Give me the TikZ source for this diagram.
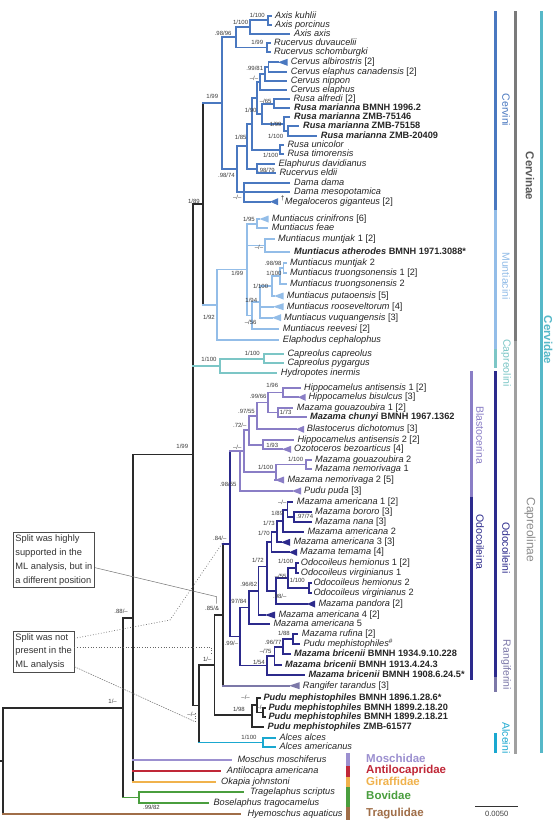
\documentclass[tikz,border=0pt]{standalone}
\usepackage{fontspec}
\setmainfont{Liberation Sans}
\usetikzlibrary{calc}
\definecolor{kcvi}{HTML}{4A78C0}
\definecolor{kmun}{HTML}{93BDE8}
\definecolor{kcap}{HTML}{7CC6C6}
\definecolor{kbla}{HTML}{8A7EC6}
\definecolor{kodo}{HTML}{2C2A8C}
\definecolor{kran}{HTML}{7C78A8}
\definecolor{kalc}{HTML}{1AA8D0}
\definecolor{kmos}{HTML}{9C90D0}
\definecolor{kant}{HTML}{C02838}
\definecolor{kgir}{HTML}{F0B24C}
\definecolor{kbov}{HTML}{4A9E3E}
\definecolor{ktra}{HTML}{A06E48}
\definecolor{kbk}{HTML}{2A2A2A}
\definecolor{klab}{HTML}{3A3A3A}
\definecolor{kcvnbar}{HTML}{7A7A7A}
\definecolor{kcapbar}{HTML}{A0A0A0}
\definecolor{kcvdbar}{HTML}{56B8C8}
\newcommand{\vbr}[4]{\draw[br,#4] (#1 |- #2) -- (#1 |- #3);}
\newcommand{\hbr}[3]{\draw[br,#3] (#1 |- #2) -- (#2);}
\newcommand{\tip}[5]{\coordinate (t#1) at (#3,#2);\node[tx] (n#1) at (#4,#2) {#5};}
\newcommand{\ttip}[7]{\coordinate (t#1) at (#3,#2);\fill[#6] (t#1) -- ($(t#1)+(#7,-3.5)$) -- ($(t#1)+(#7,3.5)$) -- cycle;\node[tx] (n#1) at (#4,#2) {#5};}
\newcounter{lbl}
\newcommand{\slb}[3]{\stepcounter{lbl}\node[slab] (s\arabic{lbl}) at (#1,#2) {#3};}
\begin{document}
\begin{tikzpicture}[x=1pt,y=-1pt,
 br/.style={line width=1.7pt, line cap=rect},
 tx/.style={anchor=mid west, inner sep=0pt, font=\fontsize{9.2}{10}\selectfont, text=black!85},
 slab/.style={anchor=east, inner sep=0pt, font=\fontsize{6}{7}\selectfont, text=klab},
 cbar/.style={line width=3pt},
 cl/.style={rotate=-90, inner sep=0pt, font=\fontsize{10.5}{12}\selectfont},
 fam/.style={anchor=mid west, inner sep=0pt, font=\fontsize{11.5}{13}\selectfont\bfseries},
 note/.style={draw=black!70, line width=0.8pt, inner sep=2.3pt, align=left, anchor=north west, font=\fontsize{9.3}{13.8}\selectfont, text=black!80},
 lead/.style={black!55, line width=0.5pt},
 leaddot/.style={black!60, line width=0.7pt, dotted}]
\useasboundingbox (0,0) rectangle (553,822);
\fill[white] (0,0) rectangle (553,822);
% ---------- tips ----------
\tip{1}{15.7}{271}{275}{\textit{Axis kuhlii}}
\tip{2}{24.7}{271}{275}{\textit{Axis porcinus}}
\tip{3}{33.7}{289.5}{294}{\textit{Axis axis}}
\tip{4}{42.7}{270}{274}{\textit{Rucervus duvaucelii}}
\tip{5}{52.3}{270}{274}{\textit{Rucervus schomburgki}}
\ttip{6}{62.3}{278}{290.7}{\textit{Cervus albirostris} [2]}{kcvi}{9.5}
\tip{7}{71.7}{286}{290.7}{\textit{Cervus elaphus canadensis} [2]}
\tip{8}{81}{286}{290.7}{\textit{Cervus nippon}}
\tip{9}{90}{286}{290.7}{\textit{Cervus elaphus}}
\tip{10}{99.3}{289}{293.3}{\textit{Rusa alfredi} [2]}
\tip{11}{108.3}{289.5}{294}{\textbf{\textit{Rusa marianna} BMNH 1996.2}}
\tip{12}{116.7}{289.5}{294}{\textbf{\textit{Rusa marianna} ZMB-75146}}
\tip{13}{126}{298.5}{303}{\textbf{\textit{Rusa marianna} ZMB-75158}}
\tip{14}{135.7}{316}{320.7}{\textbf{\textit{Rusa marianna} ZMB-20409}}
\tip{15}{145}{283}{287.3}{\textit{Rusa unicolor}}
\tip{16}{154.3}{283}{287.3}{\textit{Rusa timorensis}}
\tip{17}{164}{274}{278.3}{\textit{Elaphurus davidianus}}
\tip{18}{173.3}{275}{279.3}{\textit{Rucervus eldii}}
\tip{19}{182.7}{289.5}{294}{\textit{Dama dama}}
\tip{20}{191.7}{289.5}{294}{\textit{Dama mesopotamica}}
\ttip{21}{201.7}{270}{280.7}{\textsuperscript{†}\textit{Megaloceros giganteus} [2]}{kcvi}{8}
\ttip{22}{219}{259.5}{271.7}{\textit{Muntiacus crinifrons} [6]}{kmun}{9}
\tip{23}{228.3}{267.5}{271.7}{\textit{Muntiacus feae}}
\tip{24}{239}{274}{278}{\textit{Muntiacus muntjak} 1 [2]}
\tip{25}{251.7}{289.5}{294}{\textbf{\textit{Muntiacus atherodes} BMNH 1971.3088*}}
\tip{26}{263.3}{286}{290}{\textit{Muntiacus muntjak} 2}
\tip{27}{273.3}{286}{290}{\textit{Muntiacus truongsonensis} 1 [2]}
\tip{28}{284.3}{286}{290}{\textit{Muntiacus truongsonensis} 2}
\ttip{29}{296}{274}{286.7}{\textit{Muntiacus putaoensis} [5]}{kmun}{9.5}
\ttip{30}{306.7}{273}{286.7}{\textit{Muntiacus rooseveltorum} [4]}{kmun}{10.5}
\ttip{31}{317.7}{272}{284}{\textit{Muntiacus vuquangensis} [3]}{kmun}{9}
\tip{32}{329}{278.5}{282.7}{\textit{Muntiacus reevesi} [2]}
\tip{33}{340}{278.5}{282.7}{\textit{Elaphodus cephalophus}}
\tip{34}{354}{283}{287.3}{\textit{Capreolus capreolus}}
\tip{35}{363.3}{283}{287.3}{\textit{Capreolus pygargus}}
\tip{36}{373.3}{276.5}{280.7}{\textit{Hydropotes inermis}}
\tip{37}{387.7}{300}{304}{\textit{Hippocamelus antisensis} 1 [2]}
\ttip{38}{397.3}{298}{308.3}{\textit{Hippocamelus bisulcus} [3]}{kbla}{7.5}
\tip{39}{407.7}{292.5}{296.7}{\textit{Mazama gouazoubira} 1 [2]}
\tip{40}{417.3}{306}{310}{\textbf{\textit{Mazama chunyi} BMNH 1967.1362}}
\ttip{41}{429.3}{296}{306.7}{\textit{Blastocerus dichotomus} [3]}{kbla}{8}
\tip{42}{440}{293}{297.3}{\textit{Hippocamelus antisensis} 2 [2]}
\ttip{43}{449.3}{282}{294}{\textit{Ozotoceros bezoarticus} [4]}{kbla}{9}
\tip{44}{460}{311}{315}{\textit{Mazama gouazoubira} 2}
\tip{45}{469}{311}{315}{\textit{Mazama nemorivaga} 1}
\ttip{46}{480}{275}{287.3}{\textit{Mazama nemorivaga} 2 [5]}{kbla}{9}
\ttip{47}{491}{292}{304}{\textit{Pudu puda} [3]}{kbla}{9}
\tip{48}{502.3}{292.5}{296.7}{\textit{Mazama americana} 1 [2]}
\tip{49}{512.3}{311}{315}{\textit{Mazama bororo} [3]}
\tip{50}{522.3}{311}{315}{\textit{Mazama nana} [3]}
\tip{51}{532.3}{303}{307.3}{\textit{Mazama americana} 2}
\ttip{52}{542.3}{281}{293.3}{\textit{Mazama americana} 3 [3]}{kodo}{9}
\ttip{53}{552.3}{289}{300}{\textit{Mazama temama} [4]}{kodo}{8}
\tip{54}{563.3}{298.5}{300.7}{\textit{Odocoileus hemionus} 1 [2]}
\tip{55}{573.3}{298.5}{300.7}{\textit{Odocoileus virginianus} 1}
\tip{56}{583.3}{311}{313.3}{\textit{Odocoileus hemionus} 2}
\tip{57}{593.3}{311}{313.3}{\textit{Odocoileus virginianus} 2}
\ttip{58}{604}{307}{318.3}{\textit{Mazama pandora} [2]}{kodo}{8}
\ttip{59}{615}{265}{278.3}{\textit{Mazama americana} 4 [2]}{kodo}{10}
\tip{60}{624.3}{269}{273.3}{\textit{Mazama americana} 5}
\tip{61}{634.3}{297.5}{301.7}{\textit{Mazama rufina} [2]}
\tip{62}{644.3}{299}{303.3}{\textit{Pudu mephistophiles}\textsuperscript{\#}}
\tip{63}{654.3}{290}{294}{\textbf{\textit{Mazama bricenii} BMNH 1934.9.10.228}}
\tip{64}{665}{281}{285}{\textbf{\textit{Mazama bricenii} BMNH 1913.4.24.3}}
\tip{65}{675}{304}{308.3}{\textbf{\textit{Mazama bricenii} BMNH 1908.6.24.5*}}
\ttip{66}{685.7}{289}{302.7}{\textit{Rangifer tarandus} [3]}{kran}{10.5}
\tip{67}{697.7}{260}{263.3}{\textbf{\textit{Pudu mephistophiles} BMNH 1896.1.28.6*}}
\tip{68}{707.7}{265}{268.3}{\textbf{\textit{Pudu mephistophiles} BMNH 1899.2.18.20}}
\tip{69}{717.3}{265}{268.3}{\textbf{\textit{Pudu mephistophiles} BMNH 1899.2.18.21}}
\tip{70}{727}{263.5}{267.5}{\textbf{\textit{Pudu mephistophiles} ZMB-61577}}
\tip{71}{737.7}{275}{279.3}{\textit{Alces alces}}
\tip{72}{747}{275}{279.3}{\textit{Alces americanus}}
\tip{73}{760}{230.7}{237.3}{\textit{Moschus moschiferus}}
\tip{74}{771}{220}{226.7}{\textit{Antilocapra americana}}
\tip{75}{781.7}{215}{221}{\textit{Okapia johnstoni}}
\tip{76}{792.3}{243.3}{250}{\textit{Tragelaphus scriptus}}
\tip{77}{802.7}{208.3}{213.3}{\textit{Boselaphus tragocamelus}}
\tip{78}{814.3}{240}{247.3}{\textit{Hyemoschus aquaticus}}
% ---------- internal nodes ----------
\coordinate (A1) at (268.3,20.2);
\coordinate (A2) at (250,27.0);
\coordinate (R1) at (267,47.5);
\coordinate (N96) at (236,37.2);
\coordinate (C1) at (268.5,67.0);
\coordinate (C2) at (265,74.0);
\coordinate (C3) at (260,82.0);
\coordinate (RA1) at (274,103.8);
\coordinate (RA3) at (288,130.9);
\coordinate (RA2) at (284,123.8);
\coordinate (RA4) at (262,113.8);
\coordinate (CR) at (257,97.9);
\coordinate (RU) at (280,149.7);
\coordinate (CRU) at (252,123.8);
\coordinate (EL) at (257.3,168.7);
\coordinate (N85) at (247,146.2);
\coordinate (DM) at (244,192.2);
\coordinate (N74) at (237,169.2);
\coordinate (CVI) at (221.7,103.2);
\coordinate (MC1) at (257,223.7);
\coordinate (MA) at (265,245.4);
\coordinate (MT1) at (283.5,268.3);
\coordinate (MT2) at (280,276.3);
\coordinate (MP1) at (271.7,286.2);
\coordinate (MP2) at (260,302.0);
\coordinate (MP3) at (251.7,315.5);
\coordinate (MM) at (247,269.6);
\coordinate (MU) at (216.7,304.8);
\coordinate (CVN) at (203,204.0);
\coordinate (CP1) at (264,358.7);
\coordinate (CP2) at (220,366.0);
\coordinate (H1) at (282.7,392.5);
\coordinate (G1) at (278.3,412.5);
\coordinate (H2) at (268.3,402.5);
\coordinate (H3) at (256.7,415.9);
\coordinate (HO) at (263.3,444.7);
\coordinate (H4) at (249.3,430.3);
\coordinate (GN1) at (306,464.5);
\coordinate (GN2) at (276,472.3);
\coordinate (H5) at (244,451.3);
\coordinate (BL) at (240,451.3);
\coordinate (BN) at (294,517.3);
\coordinate (AM1) at (287.5,509.8);
\coordinate (AM2) at (283,521.1);
\coordinate (AM3) at (277,531.7);
\coordinate (AM4) at (271.5,542.0);
\coordinate (OV1) at (296,568.3);
\coordinate (OV2) at (309,588.3);
\coordinate (OV3) at (288,578.3);
\coordinate (OV4) at (276,591.2);
\coordinate (AO) at (266.7,566.6);
\coordinate (AO2) at (258.5,590.8);
\coordinate (AO3) at (249,607.6);
\coordinate (MR1) at (293,639.3);
\coordinate (MR2) at (283.3,646.8);
\coordinate (MR3) at (274.5,655.9);
\coordinate (MR4) at (266.7,665.5);
\coordinate (OA) at (240,636.5);
\coordinate (W) at (230,543.9);
\coordinate (Q) at (222.7,614.8);
\coordinate (PM1) at (262.7,712.5);
\coordinate (PM2) at (257.3,705.1);
\coordinate (PM3) at (251.7,715.0);
\coordinate (Z) at (214.5,664.9);
\coordinate (AL) at (263.3,742.4);
\coordinate (CAP) at (199.3,705.5);
\coordinate (CD) at (193.3,454.6);
\coordinate (PE) at (132.7,618.2);
\coordinate (BV) at (139.3,797.5);
\coordinate (PC) at (122.7,707.9);
\coordinate (RT) at (3.3,761.1);
\coordinate (root0) at (0,761.1);
% ---------- Cervini ----------
\vbr{A1}{t1}{t2}{kcvi}\hbr{A1}{t1}{kcvi}\hbr{A1}{t2}{kcvi}
\vbr{A2}{A1}{t3}{kcvi}\hbr{A2}{A1}{kcvi}\hbr{A2}{t3}{kcvi}
\vbr{R1}{t4}{t5}{kcvi}\hbr{R1}{t4}{kcvi}\hbr{R1}{t5}{kcvi}
\vbr{N96}{A2}{R1}{kcvi}\hbr{N96}{A2}{kcvi}\hbr{N96}{R1}{kcvi}
\vbr{C1}{t6}{t7}{kcvi}\hbr{C1}{t6}{kcvi}\hbr{C1}{t7}{kcvi}
\vbr{C2}{C1}{t8}{kcvi}\hbr{C2}{C1}{kcvi}\hbr{C2}{t8}{kcvi}
\vbr{C3}{C2}{t9}{kcvi}\hbr{C3}{C2}{kcvi}\hbr{C3}{t9}{kcvi}
\vbr{RA1}{t10}{t11}{kcvi}\hbr{RA1}{t10}{kcvi}\hbr{RA1}{t11}{kcvi}
\vbr{RA3}{t13}{t14}{kcvi}\hbr{RA3}{t13}{kcvi}\hbr{RA3}{t14}{kcvi}
\vbr{RA2}{t12}{RA3}{kcvi}\hbr{RA2}{t12}{kcvi}\hbr{RA2}{RA3}{kcvi}
\vbr{RA4}{RA1}{RA2}{kcvi}\hbr{RA4}{RA1}{kcvi}\hbr{RA4}{RA2}{kcvi}
\vbr{CR}{C3}{RA4}{kcvi}\hbr{CR}{C3}{kcvi}\hbr{CR}{RA4}{kcvi}
\vbr{RU}{t15}{t16}{kcvi}\hbr{RU}{t15}{kcvi}\hbr{RU}{t16}{kcvi}
\vbr{CRU}{CR}{RU}{kcvi}\hbr{CRU}{CR}{kcvi}\hbr{CRU}{RU}{kcvi}
\vbr{EL}{t17}{t18}{kcvi}\hbr{EL}{t17}{kcvi}\hbr{EL}{t18}{kcvi}
\vbr{N85}{CRU}{EL}{kcvi}\hbr{N85}{CRU}{kcvi}\hbr{N85}{EL}{kcvi}
\vbr{DM}{t19}{t21}{kcvi}\hbr{DM}{t19}{kcvi}\hbr{DM}{t20}{kcvi}\hbr{DM}{t21}{kcvi}
\vbr{N74}{N85}{DM}{kcvi}\hbr{N74}{N85}{kcvi}\hbr{N74}{DM}{kcvi}
\vbr{CVI}{N96}{N74}{kcvi}\hbr{CVI}{N96}{kcvi}\hbr{CVI}{N74}{kcvi}
% ---------- Muntiacini ----------
\vbr{MC1}{t22}{t23}{kmun}\hbr{MC1}{t22}{kmun}\hbr{MC1}{t23}{kmun}
\vbr{MA}{t24}{t25}{kmun}\hbr{MA}{t24}{kmun}\hbr{MA}{t25}{kmun}
\vbr{MT1}{t26}{t27}{kmun}\hbr{MT1}{t26}{kmun}\hbr{MT1}{t27}{kmun}
\vbr{MT2}{MT1}{t28}{kmun}\hbr{MT2}{MT1}{kmun}\hbr{MT2}{t28}{kmun}
\vbr{MP1}{MT2}{t29}{kmun}\hbr{MP1}{MT2}{kmun}\hbr{MP1}{t29}{kmun}
\vbr{MP2}{MP1}{t31}{kmun}\hbr{MP2}{MP1}{kmun}\hbr{MP2}{t30}{kmun}\hbr{MP2}{t31}{kmun}
\vbr{MP3}{MP2}{t32}{kmun}\hbr{MP3}{MP2}{kmun}\hbr{MP3}{t32}{kmun}
\vbr{MM}{MC1}{MP3}{kmun}\hbr{MM}{MC1}{kmun}\hbr{MM}{MA}{kmun}\hbr{MM}{MP3}{kmun}
\vbr{MU}{MM}{t33}{kmun}\hbr{MU}{MM}{kmun}\hbr{MU}{t33}{kmun}
\vbr{CVN}{CVI}{MU}{kbk}\hbr{CVN}{CVI}{kcvi}\hbr{CVN}{MU}{kmun}
% ---------- Capreolini ----------
\vbr{CP1}{t34}{t35}{kcap}\hbr{CP1}{t34}{kcap}\hbr{CP1}{t35}{kcap}
\vbr{CP2}{CP1}{t36}{kcap}\hbr{CP2}{CP1}{kcap}\hbr{CP2}{t36}{kcap}
% ---------- Blastocerina ----------
\vbr{H1}{t37}{t38}{kbla}\hbr{H1}{t37}{kbla}\hbr{H1}{t38}{kbla}
\vbr{G1}{t39}{t40}{kbla}\hbr{G1}{t39}{kbla}\hbr{G1}{t40}{kbla}
\vbr{H2}{H1}{G1}{kbla}\hbr{H2}{H1}{kbla}\hbr{H2}{G1}{kbla}
\vbr{H3}{H2}{t41}{kbla}\hbr{H3}{H2}{kbla}\hbr{H3}{t41}{kbla}
\vbr{HO}{t42}{t43}{kbla}\hbr{HO}{t42}{kbla}\hbr{HO}{t43}{kbla}
\vbr{H4}{H3}{HO}{kbla}\hbr{H4}{H3}{kbla}\hbr{H4}{HO}{kbla}
\vbr{GN1}{t44}{t45}{kbla}\hbr{GN1}{t44}{kbla}\hbr{GN1}{t45}{kbla}
\vbr{GN2}{GN1}{t46}{kbla}\hbr{GN2}{GN1}{kbla}\hbr{GN2}{t46}{kbla}
\vbr{H5}{H4}{GN2}{kbla}\hbr{H5}{H4}{kbla}\hbr{H5}{GN2}{kbla}
\vbr{BL}{H5}{t47}{kbla}\hbr{BL}{H5}{kbla}\hbr{BL}{t47}{kbla}
% ---------- Odocoileina ----------
\vbr{BN}{t49}{t50}{kodo}\hbr{BN}{t49}{kodo}\hbr{BN}{t50}{kodo}
\vbr{AM1}{t48}{BN}{kodo}\hbr{AM1}{t48}{kodo}\hbr{AM1}{BN}{kodo}
\vbr{AM2}{AM1}{t51}{kodo}\hbr{AM2}{AM1}{kodo}\hbr{AM2}{t51}{kodo}
\vbr{AM3}{AM2}{t52}{kodo}\hbr{AM3}{AM2}{kodo}\hbr{AM3}{t52}{kodo}
\vbr{AM4}{AM3}{t53}{kodo}\hbr{AM4}{AM3}{kodo}\hbr{AM4}{t53}{kodo}
\vbr{OV1}{t54}{t55}{kodo}\hbr{OV1}{t54}{kodo}\hbr{OV1}{t55}{kodo}
\vbr{OV2}{t56}{t57}{kodo}\hbr{OV2}{t56}{kodo}\hbr{OV2}{t57}{kodo}
\vbr{OV3}{OV1}{OV2}{kodo}\hbr{OV3}{OV1}{kodo}\hbr{OV3}{OV2}{kodo}
\vbr{OV4}{OV3}{t58}{kodo}\hbr{OV4}{OV3}{kodo}\hbr{OV4}{t58}{kodo}
\vbr{AO}{AM4}{OV4}{kodo}\hbr{AO}{AM4}{kodo}\hbr{AO}{OV4}{kodo}
\vbr{AO2}{AO}{t59}{kodo}\hbr{AO2}{AO}{kodo}\hbr{AO2}{t59}{kodo}
\vbr{AO3}{AO2}{t60}{kodo}\hbr{AO3}{AO2}{kodo}\hbr{AO3}{t60}{kodo}
\vbr{MR1}{t61}{t62}{kodo}\hbr{MR1}{t61}{kodo}\hbr{MR1}{t62}{kodo}
\vbr{MR2}{MR1}{t63}{kodo}\hbr{MR2}{MR1}{kodo}\hbr{MR2}{t63}{kodo}
\vbr{MR3}{MR2}{t64}{kodo}\hbr{MR3}{MR2}{kodo}\hbr{MR3}{t64}{kodo}
\vbr{MR4}{MR3}{t65}{kodo}\hbr{MR4}{MR3}{kodo}\hbr{MR4}{t65}{kodo}
\vbr{OA}{AO3}{MR4}{kodo}\hbr{OA}{AO3}{kodo}\hbr{OA}{MR4}{kodo}
\vbr{W}{BL}{OA}{kodo}\hbr{W}{BL}{kbla}\hbr{W}{OA}{kodo}
\vbr{Q}{W}{t66}{kbk}\hbr{Q}{W}{kodo}\hbr{Q}{t66}{kran}
% ---------- Pudu mephistophiles, Alces, backbone ----------
\vbr{PM1}{t68}{t69}{kbk}\hbr{PM1}{t68}{kbk}\hbr{PM1}{t69}{kbk}
\vbr{PM2}{t67}{PM1}{kbk}\hbr{PM2}{t67}{kbk}\hbr{PM2}{PM1}{kbk}
\vbr{PM3}{PM2}{t70}{kbk}\hbr{PM3}{PM2}{kbk}\hbr{PM3}{t70}{kbk}
\vbr{Z}{Q}{PM3}{kbk}\hbr{Z}{Q}{kbk}\hbr{Z}{PM3}{kbk}
\vbr{AL}{t71}{t72}{kalc}\hbr{AL}{t71}{kalc}\hbr{AL}{t72}{kalc}
\vbr{CAP}{Z}{AL}{kbk}\hbr{CAP}{Z}{kbk}\hbr{CAP}{AL}{kalc}
\vbr{CD}{CVN}{CAP}{kbk}\hbr{CD}{CVN}{kbk}\hbr{CD}{CP2}{kcap}\hbr{CD}{CAP}{kbk}
\vbr{PE}{CD}{t75}{kbk}\hbr{PE}{CD}{kbk}\hbr{PE}{t73}{kmos}\hbr{PE}{t74}{kant}\hbr{PE}{t75}{kgir}
\vbr{BV}{t76}{t77}{kbov}\hbr{BV}{t76}{kbov}\hbr{BV}{t77}{kbov}
\vbr{PC}{PE}{BV}{kbk}\hbr{PC}{PE}{kbk}\hbr{PC}{BV}{kbov}
\vbr{RT}{PC}{t78}{kbk}\hbr{RT}{PC}{kbk}\hbr{RT}{t78}{ktra}
\draw[br,kbk] (root0) -- (RT);
% ---------- support labels ----------
\slb{265}{15.7}{1/100}
\slb{248.3}{22.7}{1/100}
\slb{231.7}{33.3}{.98/96}
\slb{263.3}{42.7}{1/99}
\slb{263.3}{68.3}{.99/81}
\slb{258.3}{78.3}{–/–}
\slb{218.3}{96.7}{1/99}
\slb{271.7}{101.7}{–/65}
\slb{256.7}{110}{1/90}
\slb{281.7}{124}{1/99}
\slb{283.3}{136.7}{1/100}
\slb{246.7}{137.3}{1/85}
\slb{278.3}{155}{1/100}
\slb{275}{170}{.98/79}
\slb{235}{175}{.98/74}
\slb{241.7}{197.3}{–/–}
\slb{200}{201.7}{1/89}
\slb{255}{219}{1/95}
\slb{263.3}{247.3}{–/–}
\slb{281.7}{263.3}{.98/98}
\slb{281.7}{273.3}{1/100}
\slb{243.3}{273.3}{1/99}
\slb{268.3}{286.7}{1/100}
\slb{257.3}{300}{1/94}
\slb{215}{317.3}{1/92}
\slb{256.7}{322.7}{–/56}
\slb{260}{353.3}{1/100}
\slb{216.7}{359.3}{1/100}
\slb{278.3}{385.7}{1/96}
\slb{266.7}{396.7}{.99/66}
\slb{255}{411.7}{.97/55}
\slb{291.7}{412.7}{1/73}
\slb{246.7}{425}{.72/–}
\slb{188.3}{446.7}{1/99}
\slb{241.7}{447.3}{–/–}
\slb{278.3}{445}{1/93}
\slb{303.3}{459.3}{1/100}
\slb{273.3}{467.3}{1/100}
\slb{236.7}{484}{.98/55}
\slb{286.7}{502.7}{–/–}
\slb{283.3}{513.3}{1/89}
\slb{313.3}{516}{.97/74}
\slb{275}{523.3}{1/73}
\slb{270}{533.3}{1/70}
\slb{226.7}{538.3}{.84/–}
\slb{264}{560}{1/72}
\slb{293.3}{561.7}{1/100}
\slb{286.7}{576.7}{–/55}
\slb{305}{580}{1/100}
\slb{257.3}{584}{.96/62}
\slb{286.7}{596.7}{.98/–}
\slb{246.7}{601.7}{.97/84}
\slb{219.3}{608.3}{.85/\&}
\slb{128}{611}{.88/–}
\slb{290}{633.3}{1/88}
\slb{281.7}{642.7}{.96/77}
\slb{238.3}{643.3}{.99/–}
\slb{271.7}{651.7}{–/75}
\slb{211.7}{659}{1/–}
\slb{265}{662.7}{1/54}
\slb{250}{697.3}{–/–}
\slb{117}{701}{1/–}
\slb{265}{707.3}{–/–}
\slb{245}{709.3}{1/98}
\slb{196}{714}{–/–}
\slb{256.7}{737.3}{1/100}
\slb{160}{807.3}{.99/82}
% ---------- annotation boxes ----------
\node[note] (box1) at (12.7,532.3) {Split was highly\\supported in the\\ML analysis, but in\\a different position};
\node[note] (box2) at (12.7,630.7) {Split was not\\present in the\\ML analysis};
\coordinate (b1a) at (216.7,596.7);
\coordinate (b1b) at (216.7,603.5);
\coordinate (b2a) at (170,620);
\coordinate (b2e) at (223.3,541.7);
\coordinate (b2b) at (211.7,647.3);
\coordinate (b2f) at (211.7,655);
\coordinate (b2c) at (195,721.7);
\coordinate (b2g) at (195,711.5);
\draw[lead] (box1.east |- 0,567.7) -- (b1a) -- (b1b);
\draw[leaddot] (box2.east |- 0,638.3) -- (b2a) -- (b2e);
\draw[leaddot] (box2.east |- 0,647.3) -- (b2b) -- (b2f);
\draw[lead,dashed,dash pattern=on 1.5pt off 1pt] (box2.east |- 0,666.7) -- (b2c);
\draw[leaddot] (b2c) -- (b2g);
% ---------- clade bars ----------
\draw[cbar,kcvi] (495,11) -- (495,210);
\draw[cbar,kmun] (495,210) -- (495,349);
\draw[cbar,kcap] (495,349) -- (495,368);
\draw[cbar,kodo] (495,371) -- (495,677);
\draw[cbar,kran] (495,677) -- (495,692);
\draw[cbar,kalc] (495,733) -- (495,753);
\draw[cbar,kbla] (471.7,371) -- (471.7,496.7);
\draw[cbar,kodo] (471.7,496.7) -- (471.7,680);
\draw[cbar,kcvnbar] (515,11) -- (515,341);
\draw[cbar,kcapbar] (515,341) -- (515,754);
\draw[cbar,kcvdbar] (541.7,11) -- (541.7,753);
\node[cl,text=kcvi] (lc1) at (506,110) {Cervini};
\node[cl,text=kmun] (lc2) at (506,276) {Muntiacini};
\node[cl,text=kcap] (lc3) at (506,363) {Capreolini};
\node[cl,text=kbla] (lc4) at (480,435) {Blastocerina};
\node[cl,text=kodo] (lc5) at (480,542) {Odocoileina};
\node[cl,text=kodo] (lc6) at (506,548) {Odocoileini};
\node[cl,text=kran] (lc7) at (506,665) {Rangiferini};
\node[cl,text=kalc] (lc8) at (506,738) {Alceini};
\node[cl,text=black!65,font=\fontsize{11.5}{13}\selectfont\bfseries] (lc9) at (530,176) {Cervinae};
\node[cl,text=black!45,font=\fontsize{12}{14}\selectfont] (lc10) at (530,530) {Capreolinae};
\node[cl,text=kcvdbar,font=\fontsize{11.5}{13}\selectfont\bfseries] (lc11) at (548.3,340) {Cervidae};
% ---------- families ----------
\fill[kmos] (346,753) rectangle (349.5,765.5);
\fill[kant] (346,765.5) rectangle (349.5,776.5);
\fill[kgir] (346,776.5) rectangle (349.5,787);
\fill[kbov] (346,787) rectangle (349.5,807.3);
\fill[ktra] (346,807.3) rectangle (349.5,820);
\node[fam,text=kmos] (f1) at (366,760) {Moschidae};
\node[fam,text=kant] (f2) at (366,770.7) {Antilocapridae};
\node[fam,text=kgir] (f3) at (366,782.7) {Giraffidae};
\node[fam,text=kbov] (f4) at (366,797.3) {Bovidae};
\node[fam,text=ktra] (f5) at (366,814.3) {Tragulidae};
% ---------- scale ----------
\coordinate (sc1) at (475,806);
\coordinate (sc2) at (518.3,806);
\draw[black!80,line width=0.9pt] (sc1) -- (sc2);
\node[inner sep=0pt,font=\fontsize{7.6}{9}\selectfont,text=black!75] (scl) at (496.7,814.3) {0.0050};
\end{tikzpicture}
\end{document}
